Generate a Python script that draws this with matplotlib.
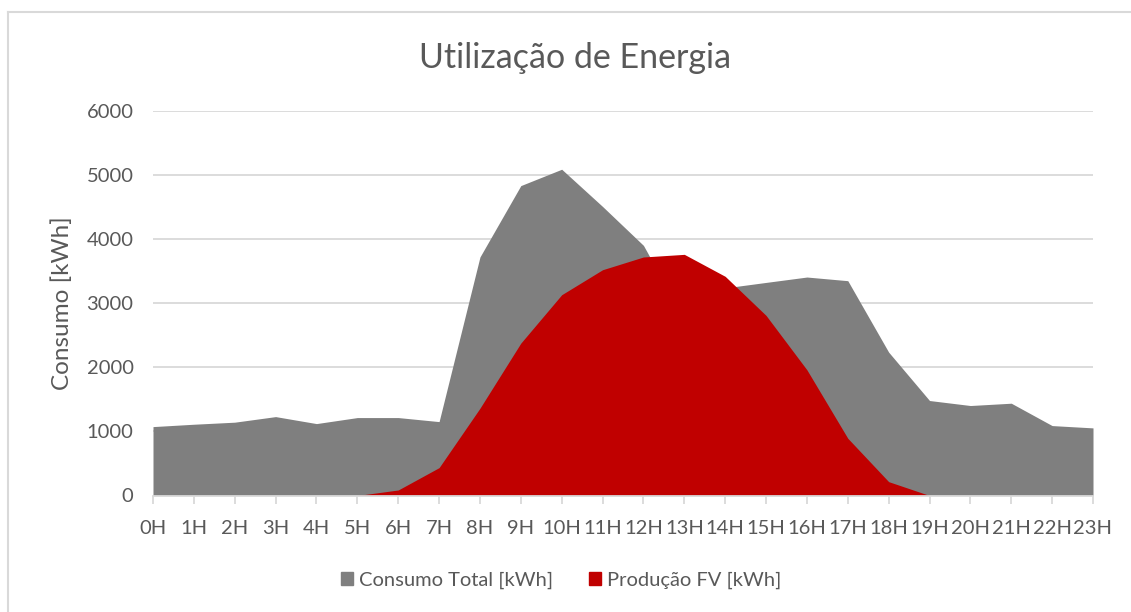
import matplotlib.pyplot as plt
from matplotlib.lines import Line2D
from matplotlib.patches import Patch

hours = [str(h) + "H" for h in range(24)]

consumo_total = [1075, 1112, 1144, 1231, 1122, 1216, 1216, 1153, 3722, 4836,
                 5091, 4510, 3903, 2750, 3240, 3325, 3409, 3352, 2237, 1482,
                 1404, 1440, 1091, 1055]

producao_fv = [0, 0, 0, 0, 0, 0, 86, 435, 1362, 2378,
               3133, 3523, 3722, 3763, 3420, 2810, 1961, 893, 216, 0,
               0, 0, 0, 0]

grey = "#7f7f7f"
red = "#c00000"
txt = "#595959"
gridc = "#d9d9d9"

plt.rcParams['font.family'] = ['Lato', 'DejaVu Sans']

fig = plt.figure(figsize=(11.31, 6.12), dpi=100)
ax = fig.add_axes([153 / 1131, 1 - 495.5 / 612, 940 / 1131, 384.5 / 612])

x = list(range(len(hours)))
ax.fill_between(x, consumo_total, 0, color=grey, linewidth=0, zorder=2)
ax.fill_between(x, producao_fv, 0, color=red, linewidth=0, zorder=3)

ax.set_xlim(0, 23)
ax.set_ylim(0, 6000)
ax.set_yticks(range(0, 6001, 1000))
ax.set_xticks(x)
ax.set_xticklabels(hours)
ax.yaxis.grid(True, color=gridc, linewidth=1.3, zorder=1)
ax.set_axisbelow(True)

for s in ["top", "right", "left"]:
    ax.spines[s].set_visible(False)
ax.spines["bottom"].set_color(gridc)
ax.spines["bottom"].set_linewidth(1.3)
ax.spines["bottom"].set_zorder(4)

ax.tick_params(axis="y", length=0, pad=14, labelsize=14.5, labelcolor=txt)
ax.tick_params(axis="x", length=6, width=1.3, color=gridc, pad=12,
               labelsize=14.5, labelcolor=txt)

ax.set_ylabel("Consumo [kWh]", fontsize=17.5, color=txt, labelpad=10)
fig.text(575 / 1131, 1 - 58 / 612, "Utilização de Energia", fontsize=24.5,
         color=txt, ha="center", va="center")

handles = [Patch(color=grey, label="Consumo Total [kWh]"),
           Patch(color=red, label="Produção FV [kWh]")]
fig.legend(handles=handles, loc="center", bbox_to_anchor=(561 / 1131, 1 - 580 / 612),
           ncol=2, frameon=False, fontsize=14.5, labelcolor=txt,
           handlelength=0.6, handleheight=0.6, handletextpad=0.3,
           columnspacing=1.8)

# outer chart border (only top and left visible)
fig.add_artist(Line2D([8 / 1131, 8 / 1131], [0, 1 - 12 / 612],
                      transform=fig.transFigure, color=gridc, linewidth=1.5))
fig.add_artist(Line2D([8 / 1131, 1], [1 - 12 / 612, 1 - 12 / 612],
                      transform=fig.transFigure, color=gridc, linewidth=1.5))

fig.savefig("out.png", dpi=100)
